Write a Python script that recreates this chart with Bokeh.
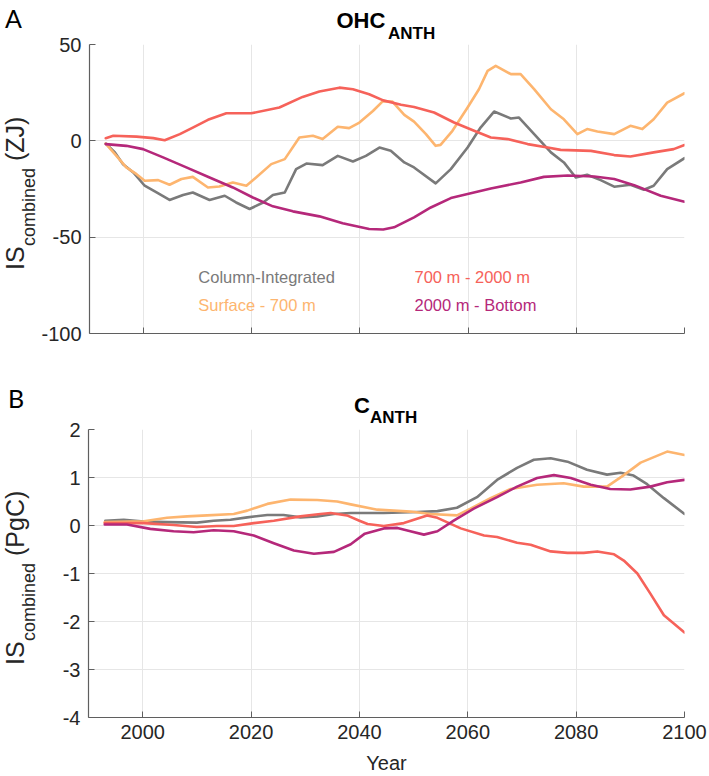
import numpy as np
from bokeh.plotting import figure
from bokeh.layouts import column, row
from bokeh.models import Label, Range1d, FixedTicker, Title, Div
from bokeh.embed import file_html
from bokeh.resources import INLINE

# ---------------- data ----------------
x_ticks = [2000, 2020, 2040, 2060, 2080, 2100]
ohc_ticks = [-100, -50, 0, 50]
c_ticks = [-4, -3, -2, -1, 0, 1, 2]
series_names = ["Column-Integrated", "Surface - 700 m", "700 m - 2000 m", "2000 m - Bottom"]

# OHC_ANTH (ZJ)
ohc_col_year = [1993.0, 1994.7, 1996.2, 1998.1, 2000.2, 2002.4, 2004.8, 2007.3, 2009.1, 2012.2, 2015.0,
                2017.1, 2019.6, 2022.1, 2023.9, 2026.1, 2028.2, 2030.1, 2033.1, 2035.9, 2038.7, 2041.1,
                2043.6, 2045.7, 2048.2, 2050.0, 2054.0, 2056.8, 2059.9, 2062.3, 2064.8, 2067.9, 2069.4,
                2072.8, 2075.3, 2077.7, 2079.9, 2082.0, 2084.5, 2087.0, 2090.0, 2092.5, 2094.3, 2096.8, 2100.0]
ohc_col = [-1.4, -6.0, -12.1, -16.4, -23.3, -26.8, -30.7, -28.1, -26.8, -30.7, -28.5,
           -32.0, -35.4, -32.0, -28.1, -26.8, -14.7, -11.8, -12.6, -7.8, -10.7, -7.8,
           -3.5, -5.2, -11.2, -13.8, -22.1, -14.7, -3.5, 6.9, 15.2, 11.6, 12.1,
           1.7, -6.0, -11.2, -19.0, -17.6, -20.4, -23.8, -22.8, -25.4, -23.3, -14.7, -9.0]

ohc_surf_year = [1993.0, 1994.7, 1996.8, 1998.7, 2000.2, 2002.7, 2004.8, 2007.0, 2009.1, 2011.9, 2014.0,
                 2016.5, 2019.0, 2020.8, 2023.6, 2026.1, 2028.8, 2031.3, 2033.1, 2035.9, 2038.0, 2039.9,
                 2042.4, 2044.2, 2046.0, 2048.2, 2050.0, 2052.2, 2054.0, 2054.9, 2057.1, 2059.9, 2062.0,
                 2063.6, 2065.1, 2067.9, 2069.7, 2072.2, 2075.3, 2077.7, 2080.2, 2082.0, 2083.9, 2087.0,
                 2090.0, 2092.2, 2094.3, 2096.8, 2100.0]
ohc_surf = [-1.4, -6.9, -13.8, -17.3, -20.7, -20.4, -22.8, -19.8, -18.7, -24.2, -23.7,
            -21.6, -23.3, -19.0, -12.1, -9.5, 1.7, 2.6, 0.9, 7.3, 6.6, 9.5,
            15.5, 20.5, 20.4, 13.5, 10.0, 3.5, -2.6, -2.1, 5.2, 17.3, 26.8,
            36.3, 38.9, 34.6, 34.6, 26.8, 16.4, 11.2, 3.5, 6.1, 4.8, 3.5,
            7.8, 6.1, 11.2, 19.8, 24.7]

ohc_mid_year = [1993.0, 1994.4, 1998.7, 2001.8, 2003.9, 2006.7, 2009.1, 2011.9, 2015.3, 2019.9, 2025.1,
                2029.4, 2032.5, 2036.2, 2038.7, 2041.7, 2044.3, 2047.6, 2050.0, 2053.7, 2057.4, 2061.1,
                2064.2, 2067.3, 2071.0, 2074.7, 2077.1, 2082.7, 2087.0, 2090.0, 2094.3, 2098.0, 2100.0]
ohc_mid = [1.4, 2.6, 2.2, 1.4, 0.3, 3.5, 6.9, 10.9, 14.3, 14.3, 17.3,
           22.8, 25.6, 27.6, 26.8, 24.2, 21.0, 18.7, 17.6, 14.7, 9.5, 5.2,
           1.7, 0.9, -1.7, -3.5, -4.7, -5.2, -7.4, -8.1, -6.0, -4.3, -2.2]

ohc_deep_year = [1993.0, 1996.8, 1999.9, 2003.6, 2007.9, 2012.2, 2016.5, 2020.2, 2023.9, 2027.6, 2032.5,
                 2036.8, 2041.7, 2044.3, 2046.3, 2050.0, 2053.1, 2056.8, 2059.9, 2064.2, 2069.7, 2074.0,
                 2078.4, 2083.3, 2087.0, 2090.7, 2095.6, 2100.0]
ohc_deep = [-1.7, -2.6, -4.3, -8.6, -13.8, -19.0, -24.2, -29.4, -34.0, -36.6, -39.2,
            -42.8, -45.8, -46.0, -44.9, -39.7, -34.6, -29.7, -27.6, -24.7, -21.6, -18.7,
            -18.0, -18.5, -19.8, -23.0, -28.5, -31.6]

# C_ANTH (PgC)
c_col_year = [1993.1, 1996.5, 2000.2, 2004.5, 2010.0, 2013.1, 2016.2, 2019.3, 2023.0, 2026.0, 2029.1,
              2032.2, 2035.3, 2038.4, 2044.5, 2050.7, 2054.4, 2058.0, 2061.7, 2065.4, 2069.1, 2072.2,
              2075.3, 2078.4, 2082.0, 2085.7, 2088.2, 2090.6, 2093.1, 2096.2, 2100.0]
c_col = [0.10, 0.12, 0.08, 0.07, 0.06, 0.10, 0.12, 0.17, 0.22, 0.22, 0.17,
         0.19, 0.24, 0.26, 0.26, 0.28, 0.30, 0.37, 0.59, 0.95, 1.20, 1.37,
         1.40, 1.33, 1.16, 1.06, 1.10, 1.04, 0.86, 0.57, 0.24]

c_surf_year = [1993.0, 2000.2, 2004.5, 2008.2, 2011.9, 2016.8, 2019.3, 2023.0, 2027.3, 2032.2, 2035.9,
               2038.4, 2043.3, 2049.4, 2053.1, 2058.0, 2060.5, 2064.2, 2067.9, 2072.8, 2077.7, 2081.4,
               2085.7, 2088.8, 2091.9, 2096.8, 2100.0]
c_surf = [0.07, 0.09, 0.16, 0.19, 0.21, 0.24, 0.31, 0.45, 0.54, 0.53, 0.50,
          0.44, 0.33, 0.29, 0.24, 0.21, 0.35, 0.57, 0.76, 0.85, 0.88, 0.81,
          0.81, 1.05, 1.31, 1.54, 1.47]

c_mid_year = [1993.0, 2000.2, 2005.7, 2010.0, 2013.7, 2016.8, 2020.5, 2024.2, 2029.1, 2032.8, 2034.7,
              2037.7, 2040.0, 2041.5, 2044.5, 2048.2, 2052.5, 2054.4, 2058.7, 2063.0, 2065.4, 2069.1,
              2071.6, 2075.3, 2078.4, 2081.4, 2083.9, 2087.0, 2088.8, 2091.3, 2093.7, 2096.2, 2100.0]
c_mid = [0.05, 0.05, 0.01, -0.03, -0.01, -0.01, 0.05, 0.10, 0.19, 0.24, 0.26,
         0.21, 0.10, 0.03, -0.01, 0.05, 0.21, 0.16, -0.06, -0.21, -0.24, -0.36,
         -0.40, -0.54, -0.57, -0.57, -0.54, -0.60, -0.73, -1.00, -1.42, -1.87, -2.23]

c_deep_year = [1993.0, 1997.1, 2001.4, 2005.7, 2009.4, 2013.1, 2016.8, 2020.5, 2024.2, 2027.9, 2031.6,
               2035.3, 2038.4, 2041.0, 2044.5, 2047.0, 2049.4, 2051.9, 2054.4, 2057.4, 2061.1, 2065.4,
               2069.1, 2072.8, 2075.9, 2079.0, 2082.7, 2086.3, 2090.0, 2093.7, 2096.8, 2100.0]
c_deep = [0.02, 0.02, -0.07, -0.12, -0.14, -0.10, -0.12, -0.21, -0.37, -0.52, -0.59,
          -0.55, -0.39, -0.17, -0.06, -0.05, -0.12, -0.19, -0.12, 0.10, 0.35, 0.59,
          0.81, 0.99, 1.05, 0.99, 0.85, 0.76, 0.75, 0.81, 0.90, 0.95]

# ---------------- styling / layout constants ----------------
C_GRAY = "#7a7a7a"
C_SURF = "#fdb56f"
C_MID = "#f6625a"
C_DEEP = "#b5287a"
SANS = "Liberation Sans"
AX = "#5f5f5f"
TXT = "#262626"

X0, X1 = 1990, 2100
TOTAL_W = 709
STRIP_W = 38                     # html strip holding panel letter and rotated y label
PANEL_W = TOTAL_W - STRIP_W
FRAME_L = 50                     # inside the panel figure
FRAME_W = 596
FRAME_R = PANEL_W - FRAME_L - FRAME_W
FRAME_PAGE_L = STRIP_W + FRAME_L

PA_H, PA_TOP, PA_FH = 380, 44, 289
PB_H, PB_TOP, PB_FH = 396, 49, 290


def span(x, y, text, size, font=SANS, color=TXT, rotate=False, lh=None):
    lh = size if lh is None else lh
    rot = "transform-origin:0 0;transform:rotate(-90deg);" if rotate else ""
    return (f'<span style="position:absolute;left:{x:.1f}px;top:{y:.1f}px;{rot}'
            f'font-family:\'{font}\';font-size:{size}px;line-height:{lh}px;color:{color};'
            f'white-space:nowrap;margin:0;padding:0;">{text}</span>')


def strip(h, parts):
    html = (f'<div style="position:relative;width:{STRIP_W}px;height:{h}px;'
            f'margin:0;padding:0;overflow:visible;">' + "".join(parts) + "</div>")
    return Div(text=html, width=STRIP_W, height=h, margin=0)


# Liberation Sans: ascent .905, descent .212 -> content box 1.117 em
def ylabel_parts(start_main, start_sub, start_unit, unit):
    lh_main = 28                      # line box = content box of the 25px font
    lh_sub = 20                       # line box = content box of the 18px font
    x_main = 0.5
    x_sub = 35 - (0.905 * 18 + (lh_sub - 1.117 * 18) / 2)   # subscript baseline at x = 35
    return [span(x_main, start_main, "IS", 25, rotate=True, lh=lh_main),
            span(x_sub, start_sub, "combined", 18, rotate=True, lh=lh_sub),
            span(x_main, start_unit, unit, 25, rotate=True, lh=lh_main)]


def panel(h, top, fh, y0, y1, yticks, show_xlabels):
    p = figure(width=PANEL_W, height=h, x_range=Range1d(X0, X1), y_range=Range1d(y0, y1),
               output_backend="svg", toolbar_location=None, title=None,
               min_border_left=FRAME_L, min_border_right=FRAME_R,
               min_border_top=top, min_border_bottom=h - top - fh)
    p.outline_line_color = None
    p.background_fill_color = "white"
    p.border_fill_color = "white"
    for ax in (p.xaxis, p.yaxis):
        ax.axis_line_color = AX
        ax.axis_line_width = 1.2
        ax.major_tick_line_color = AX
        ax.major_tick_in = 6
        ax.major_tick_out = 0
        ax.minor_tick_line_color = None
        ax.major_label_text_font = SANS
        ax.major_label_text_font_size = "20px"
        ax.major_label_text_color = TXT
    p.xaxis.ticker = FixedTicker(ticks=x_ticks)
    p.yaxis.ticker = FixedTicker(ticks=yticks)
    p.xgrid.ticker = FixedTicker(ticks=x_ticks)
    p.ygrid.ticker = FixedTicker(ticks=yticks)
    p.grid.grid_line_color = "#e6e6e6"
    p.grid.grid_line_width = 1
    p.yaxis.major_label_standoff = 8
    p.yaxis.major_label_overrides = {t: str(t) for t in yticks}
    p.xaxis.major_label_standoff = 7
    if not show_xlabels:
        p.xaxis.major_label_overrides = {t: "" for t in x_ticks}
    return p


def add_title(p, text, size, page_left, standoff):
    p.add_layout(Title(text=text, text_font=SANS, text_font_size=size, text_font_style="bold",
                       text_color="black", align="left", offset=page_left - FRAME_PAGE_L,
                       standoff=standoff, vertical_align="bottom"), "above")


# ---------------- panel A ----------------
pa = panel(PA_H, PA_TOP, PA_FH, -100, 50, ohc_ticks, False)
for xs, ys, c in [(ohc_col_year, ohc_col, C_GRAY), (ohc_surf_year, ohc_surf, C_SURF),
                  (ohc_mid_year, ohc_mid, C_MID), (ohc_deep_year, ohc_deep, C_DEEP)]:
    pa.line(xs, ys, line_width=2.6, color=c, line_join="round", line_cap="round")

add_title(pa, "ANTH", "17px", 386.5, 4)    # subscript, nearest the frame
add_title(pa, "OHC", "22px", 335, -26)

def ax_x(px):
    return X0 + (px - FRAME_PAGE_L) * (X1 - X0) / FRAME_W

def a_y(py):
    return 50 - (py - PA_TOP) * 150 / PA_FH

for (px, py), name, c in zip([(197, 276), (197, 304.5), (413.5, 276), (413.5, 304.5)],
                             series_names, [C_GRAY, C_SURF, C_MID, C_DEEP]):
    pa.add_layout(Label(x=ax_x(px), y=a_y(py), text=name, text_font=SANS,
                        text_font_size="16.5px", text_color=c, text_baseline="middle"))

sa = strip(PA_H, [span(5, 2.6, "A", 25, font="Lato", color="black", lh=30)]
           + ylabel_parts(270, 246.4, 161.4, "(ZJ)"))

# ---------------- panel B ----------------
pb = panel(PB_H, PB_TOP, PB_FH, -4, 2, c_ticks, True)
for xs, ys, c in [(c_col_year, c_col, C_GRAY), (c_surf_year, c_surf, C_SURF),
                  (c_mid_year, c_mid, C_MID), (c_deep_year, c_deep, C_DEEP)]:
    pb.line(xs, ys, line_width=2.6, color=c, line_join="round", line_cap="round")

add_title(pb, "ANTH", "17px", 369.5, 5)
add_title(pb, "C", "22px", 353.5, -29)

pb.xaxis.axis_label = "Year"
pb.xaxis.axis_label_text_font = SANS
pb.xaxis.axis_label_text_font_size = "20px"
pb.xaxis.axis_label_text_font_style = "normal"
pb.xaxis.axis_label_text_color = TXT
pb.xaxis.axis_label_standoff = 10

B0 = PA_H
sb = strip(PB_H, [span(8, 408 - 24.7 - B0, "B", 25, font="Lato", color="black", lh=30)]
           + ylabel_parts(665 - B0, 641.4 - B0, 556.4 - B0, "(PgC)"))

layout = column(row(sa, pa, spacing=0), row(sb, pb, spacing=0), spacing=0)
open("out.html", "w").write(file_html(layout, INLINE))
